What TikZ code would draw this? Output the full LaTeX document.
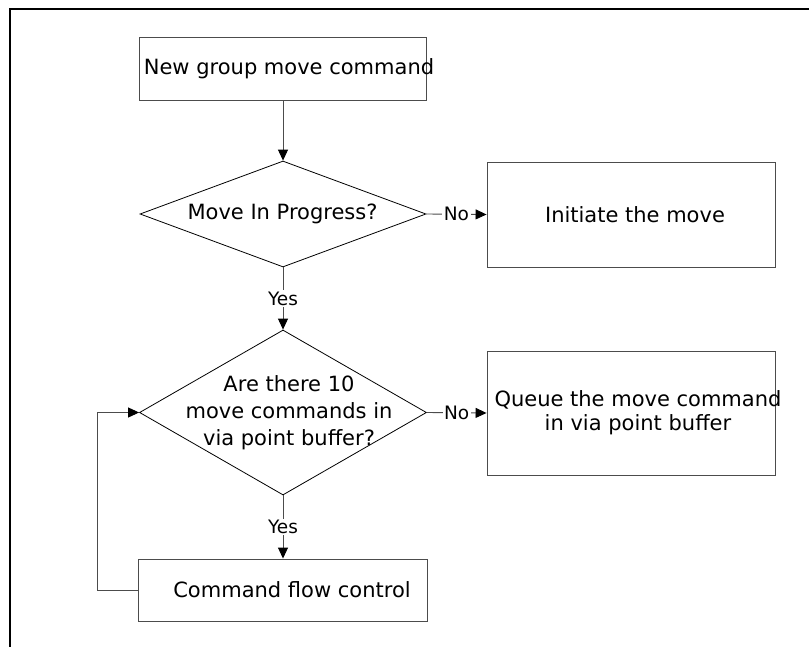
\documentclass[tikz,border=0pt]{standalone}
\usepackage{fontspec}
\setmainfont{DejaVu Sans}
\usetikzlibrary{shapes.geometric,arrows.meta}
\definecolor{flow_gray}{rgb}{.3,.3,.3}

\begin{document}
\begin{tikzpicture}[x=1pt,y=-1pt,
    box/.style={draw=flow_gray, line width=0.9pt, inner sep=0pt},
    decision/.style={diamond, draw=black, line width=0.8pt, inner sep=0pt},
    txt/.style={align=center, inner sep=0pt, font=\fontsize{21}{27}\selectfont},
    lbl/.style={fill=white, inner sep=1.5pt, font=\fontsize{18.5}{20}\selectfont},
    link/.style={draw=flow_gray, line width=0.9pt, -{Triangle[length=11pt,width=10pt,black]}}]
    % Page size 809 x 647 (1 unit = 1 pixel of the reference)
    \useasboundingbox (0,0) rectangle (809,647);
    % Page frame, only the top and left edges are shown
    \draw[line width=1.5pt] (10,647) -- (10,9) -- (809,9);

    % Left column
    \node[box, minimum width=287pt, minimum height=63pt] (new) at (283,68.5) {};
    \node[decision, minimum width=286pt, minimum height=106pt] (q1) at (283,214) {};
    \node[decision, minimum width=287pt, minimum height=165pt] (q2) at (283,412.5) {};
    \node[box, minimum width=289pt, minimum height=62pt] (flow) at (283,590) {};

    % Right column
    \node[box, minimum width=288pt, minimum height=105pt] (init) at (631,214.5) {};
    \node[box, minimum width=288pt, minimum height=124pt] (queue) at (631,413) {};

    % Texts
    \node[txt] (newtxt) at ([xshift=6pt]new.center) {New group move command};
    \node[txt] (q1txt) at ([xshift=-0.5pt]q1.center) {Move In Progress?};
    \node[txt] (q2txt) at ([xshift=6pt]q2.center) {Are there 10\\move commands in\\via point buffer?};
    \node[txt] (flowtxt) at ([xshift=9pt]flow.center) {Command flow control};
    \node[txt] (inittxt) at ([xshift=4pt]init.center) {Initiate the move};
    \node[txt, font=\fontsize{21}{24}\selectfont] (queuetxt) at ([xshift=7pt]queue.center)
      {Queue the move command\\in via point buffer};

    % Connectors
    \draw[link] (new.south) -- (q1.north);
    \draw[link] (q1.east) -- node[lbl] (no1) {No} (init.west);
    \draw[link] (q1.south) -- node[lbl] (yes1) {Yes} (q2.north);
    \draw[link] (q2.east) -- node[lbl] (no2) {No} (queue.west);
    \draw[link] (q2.south) -- node[lbl] (yes2) {Yes} (flow.north);
    % Loop back into the buffer check
    \draw[link] (flow.west) -- ++(-41,0) |- (q2.west);
\end{tikzpicture}
\end{document}
